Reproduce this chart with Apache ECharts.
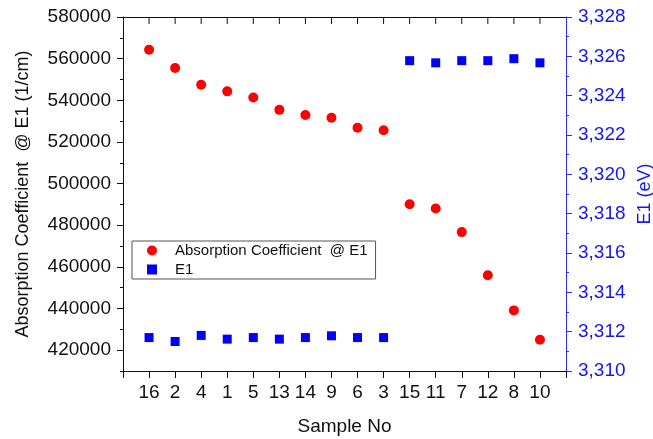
<!DOCTYPE html>
<html lang="en" style="height: 100%">
<head>
  <meta charset="utf-8">
</head>
<body style="height: 100%; margin: 0; background: #fff">
  <div id="container" style="width: 653px; height: 439px"></div>
  <script type="text/javascript" src="https://fastly.jsdelivr.net/npm/echarts@6.0.0/dist/echarts.min.js"></script>
  <script type="text/javascript">
    // sample order as on the x axis
    var samples = ['16', '2', '4', '1', '5', '13', '14', '9', '6', '3', '15', '11', '7', '12', '8', '10'];
    // absorption coefficient @ E1 (1/cm), left axis
    var absorption = [564300, 555500, 547500, 544300, 541300, 535400, 532900, 531600, 526800, 525600,
                      490100, 488000, 476700, 456000, 439100, 425000];
    // E1 (eV), right axis
    var e1 = [3.31170, 3.31150, 3.31181, 3.31162, 3.31170, 3.31162, 3.31170, 3.31179, 3.31170, 3.31170,
              3.32578, 3.32567, 3.32578, 3.32578, 3.32588, 3.32567];
    // left axis tick values
    var leftMajor = [420000, 440000, 460000, 480000, 500000, 520000, 540000, 560000, 580000];
    var leftMinor = [410000, 430000, 450000, 470000, 490000, 510000, 530000, 550000, 570000];
    var leftMax = 580000;

    var font = 'Liberation Sans, Arial, sans-serif';
    var absData = absorption.map((v, i) => [i + 1, v]);
    var e1Data = e1.map((v, i) => [i + 1, v]);
    // inward ticks on the top frame, one per sample
    var topTickData = samples.map((s, i) => [i + 1, leftMax]);

    var myChart = echarts.init(document.getElementById('container'), null, { renderer: 'canvas' });

    var option = {
      animation: false,
      backgroundColor: '#fff',
      grid: { left: 123, right: 87, top: 17, bottom: 68, outerBoundsMode: 'none' },
      legend: {
        left: 132, top: 241, orient: 'vertical',
        itemWidth: 10, itemHeight: 10, itemGap: 4,
        padding: [2, 8, 2, 15],
        borderColor: '#555', borderWidth: 1,
        textStyle: { fontFamily: font, fontSize: 15, color: '#111', padding: [0, 0, 0, 13] },
        data: [{ name: 'Absorption Coefficient  @ E1', icon: 'circle' }, { name: 'E1', icon: 'rect' }]
      },
      xAxis: [{
        type: 'value', min: 0, max: 17, interval: 1, position: 'bottom',
        name: 'Sample No', nameLocation: 'middle', nameGap: 46,
        nameTextStyle: { fontFamily: font, fontSize: 19, color: '#111' },
        axisLine: { show: true, onZero: false, lineStyle: { color: '#111', width: 1 } },
        axisTick: { show: true, length: 7, lineStyle: { color: '#111' } },
        axisLabel: {
          fontFamily: font, fontSize: 19, color: '#111', margin: 12,
          formatter: v => samples[v - 1] || ''
        },
        splitLine: { show: false }
      }, {
        // top frame line
        type: 'value', min: 0, max: 17, interval: 1, position: 'top',
        axisLine: { show: true, onZero: false, lineStyle: { color: '#111', width: 1 } },
        axisTick: { show: false },
        axisLabel: { show: false },
        splitLine: { show: false }
      }],
      yAxis: [{
        type: 'value', min: 410000, max: leftMax, interval: 10000, position: 'left',
        name: 'Absorption Coefficient  @ E1 (1/cm)', nameLocation: 'middle', nameGap: 91,
        nameTextStyle: { fontFamily: font, fontSize: 18, color: '#111' },
        axisLine: { show: true, onZero: false, lineStyle: { color: '#111', width: 1 } },
        axisTick: { show: true, length: 6, customValues: leftMajor, lineStyle: { color: '#111' } },
        axisLabel: {
          fontFamily: font, fontSize: 19, color: '#111', margin: 12,
          customValues: leftMajor,
          formatter: v => String(v)
        },
        splitLine: { show: false }
      }, {
        type: 'value', min: 3.310, max: 3.328, interval: 0.002, position: 'right',
        name: 'E1 (eV)', nameLocation: 'middle', nameGap: 63,
        nameTextStyle: { fontFamily: font, fontSize: 18, color: '#1515f0' },
        axisLine: { show: true, onZero: false, lineStyle: { color: '#2a2aff', width: 1 } },
        axisTick: { show: true, length: 6, lineStyle: { color: '#2a2aff' } },
        minorTick: { show: true, splitNumber: 2, length: 3, lineStyle: { color: '#2a2aff' } },
        axisLabel: {
          fontFamily: font, fontSize: 19, color: '#1515f0', margin: 12,
          formatter: v => v.toFixed(3).replace('.', ',')
        },
        splitLine: { show: false }
      }, {
        // minor ticks of the left axis
        type: 'value', min: 410000, max: leftMax, interval: 10000, position: 'left',
        axisLine: { show: false, onZero: false },
        axisTick: { show: true, length: 3, customValues: leftMinor, lineStyle: { color: '#111' } },
        axisLabel: { show: false },
        splitLine: { show: false }
      }],
      series: [{
        name: 'Absorption Coefficient  @ E1', type: 'scatter', yAxisIndex: 0,
        symbol: 'circle', symbolSize: 10,
        itemStyle: { color: '#ff0000', opacity: 1 },
        data: absData
      }, {
        name: 'E1', type: 'scatter', yAxisIndex: 1,
        symbol: 'rect', symbolSize: 9,
        itemStyle: { color: '#0000ff', opacity: 1 },
        data: e1Data
      }, {
        // top ticks, drawn as thin bars hanging down from the frame
        name: 'topTicks', type: 'scatter', yAxisIndex: 0,
        symbol: 'rect', symbolSize: [1, 7], symbolOffset: [0, 3.5],
        clip: false, silent: true, z: 5,
        itemStyle: { color: '#111', opacity: 1 },
        data: topTickData
      }]
    };

    myChart.setOption(option);
  </script>
</body>
</html>
